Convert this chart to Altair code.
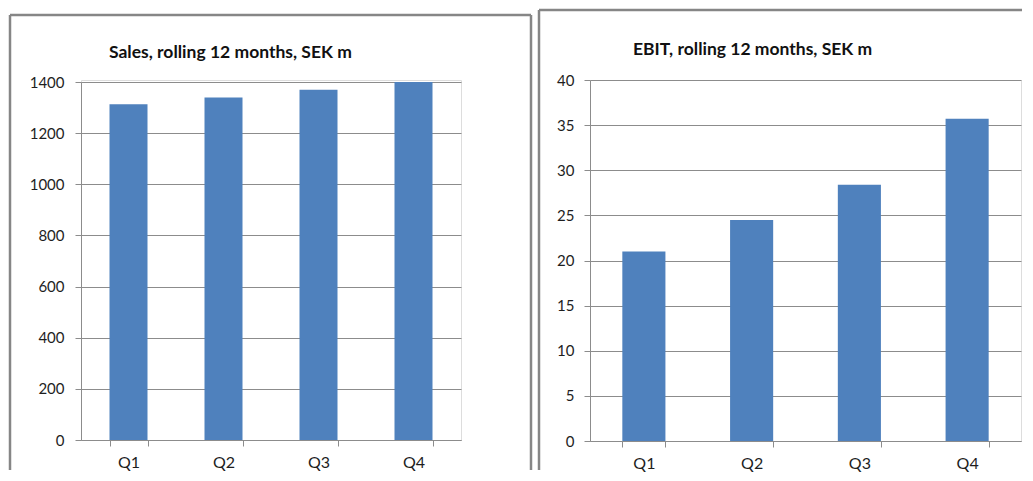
import altair as alt
import pandas as pd

quarters = ["Q1", "Q2", "Q3", "Q4"]
sales = [1313, 1339, 1370, 1400]
ebit = [21.0, 24.5, 28.4, 35.7]
sales_ticks = [0, 200, 400, 600, 800, 1000, 1200, 1400]
ebit_ticks = [0, 5, 10, 15, 20, 25, 30, 35, 40]
titles = ["Sales, rolling 12 months, SEK m", "EBIT, rolling 12 months, SEK m"]

FONT = "Lato"
GRID = "#8c8c8c"
FRAME = "#868686"
BAR = "#4f81bd"
TEXT = "#1e1e1e"


def panel(values, ticks, title, w, h, top_gap, title_dx, title_y,
          frame_left, frame_top, frame_right, frame_bottom, right_side, lab_pad):
    df = pd.DataFrame({"q": quarters, "v": values})
    bars = alt.Chart(df).mark_bar(color=BAR).encode(
        x=alt.X("q:N", sort=quarters, title=None,
                scale=alt.Scale(paddingInner=0.6, paddingOuter=0.3),
                axis=alt.Axis(labelAngle=0, tickBand="extent", grid=False,
                              domainColor=GRID, tickColor=GRID, tickSize=6,
                              labelPadding=8, labelFontSize=16, labelColor=TEXT,
                              labelFont=FONT)),
        y=alt.Y("v:Q", title=None,
                scale=alt.Scale(domain=[ticks[0], ticks[-1]], nice=False,
                                range=[h, top_gap]),
                axis=alt.Axis(values=ticks, format="d", grid=True, gridColor=GRID,
                              domainColor=GRID, tickColor=GRID, tickSize=6,
                              labelPadding=lab_pad, labelFontSize=15,
                              labelColor=TEXT, labelFont=FONT)),
    )
    one = pd.DataFrame({"k": [0]})
    base = alt.Chart(one)
    layers = [
        base.mark_rule(color=FRAME, strokeWidth=2.5).encode(
            x=alt.value(frame_left), y=alt.value(frame_top), y2=alt.value(frame_bottom)),
        base.mark_rule(color=FRAME, strokeWidth=2.5).encode(
            x=alt.value(frame_left), x2=alt.value(frame_right), y=alt.value(frame_top)),
        base.mark_text(align="left", baseline="alphabetic", font=FONT, fontSize=17.5,
                       fontWeight="bold", color="#111111").encode(
            x=alt.value(title_dx), y=alt.value(title_y), text=alt.value(title)),
    ]
    if right_side:
        layers.append(base.mark_rule(color=FRAME, strokeWidth=2.5).encode(
            x=alt.value(frame_right), y=alt.value(frame_top), y2=alt.value(frame_bottom)))
    return alt.layer(bars, *layers).properties(width=w, height=h)


# both panels share the same top origin; the sales panel's scale starts 2px lower
left = panel(sales, sales_ticks, titles[0], 380, 360, 2, 28, -22,
             -71, -65, 450, 390, True, 11)
right = panel(ebit, ebit_ticks, titles[1], 431, 361, 0, 43, -25,
              -51, -70, 432, 390, False, 10)

chart = alt.hconcat(left, right, spacing=4).properties(padding=0).configure_view(
    stroke=None
).configure(background="white")

chart.save("out.html", embed_options={"renderer": "svg", "actions": False})
